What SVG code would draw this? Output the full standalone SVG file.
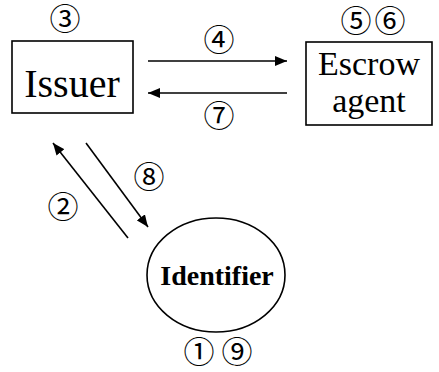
<svg xmlns="http://www.w3.org/2000/svg" width="439" height="372" viewBox="0 0 439 372">
<style>
.box{fill:#fff;stroke:#000;stroke-width:1.6}
.lbl{font-family:"Liberation Serif","Times New Roman","DejaVu Serif",serif;fill:#000;text-anchor:middle}
.num{font-family:"DejaVu Serif","Noto Sans CJK JP",serif;font-size:31px;fill:#000;text-anchor:middle;dominant-baseline:central}
.edge{stroke:#000;stroke-width:1.6;fill:none}
</style>
<defs>
<marker id="ah" viewBox="0 0 12 10" refX="12" refY="5" markerWidth="12" markerHeight="10" markerUnits="userSpaceOnUse" orient="auto">
<path d="M0,0 L12,5 L0,10 Z" fill="#000"/>
</marker>
</defs>
<rect width="439" height="372" fill="#fff"/>
<g id="issuer">
<rect class="box" x="12" y="41" width="121" height="72"/>
<text class="lbl" x="72" y="97" font-size="40">Issuer</text>
<text class="num" x="65" y="19">③</text>
</g>
<g id="escrow">
<rect class="box" x="306" y="42" width="126" height="83"/>
<text class="lbl" x="369" y="75" font-size="34">Escrow</text>
<text class="lbl" x="369" y="112" font-size="34">agent</text>
<text class="num" x="356" y="21">⑤</text>
<text class="num" x="390" y="21">⑥</text>
</g>
<g id="identifier">
<ellipse class="box" cx="216" cy="275" rx="69" ry="57"/>
<text class="lbl" x="217" y="285" font-size="28" font-weight="bold">Identifier</text>
<text class="num" x="199" y="352">①</text>
<text class="num" x="237" y="352">⑨</text>
</g>
<g id="connectors">
<line class="edge" x1="148" y1="61" x2="287" y2="61" marker-end="url(#ah)"/>
<line class="edge" x1="287" y1="93" x2="148" y2="93" marker-end="url(#ah)"/>
<line class="edge" x1="128" y1="238" x2="53" y2="143" marker-end="url(#ah)"/>
<line class="edge" x1="86" y1="143" x2="148" y2="227" marker-end="url(#ah)"/>
<text class="num" x="219" y="40">④</text>
<text class="num" x="219" y="116">⑦</text>
<text class="num" x="149" y="177">⑧</text>
<text class="num" x="63" y="207">②</text>
</g>
</svg>
